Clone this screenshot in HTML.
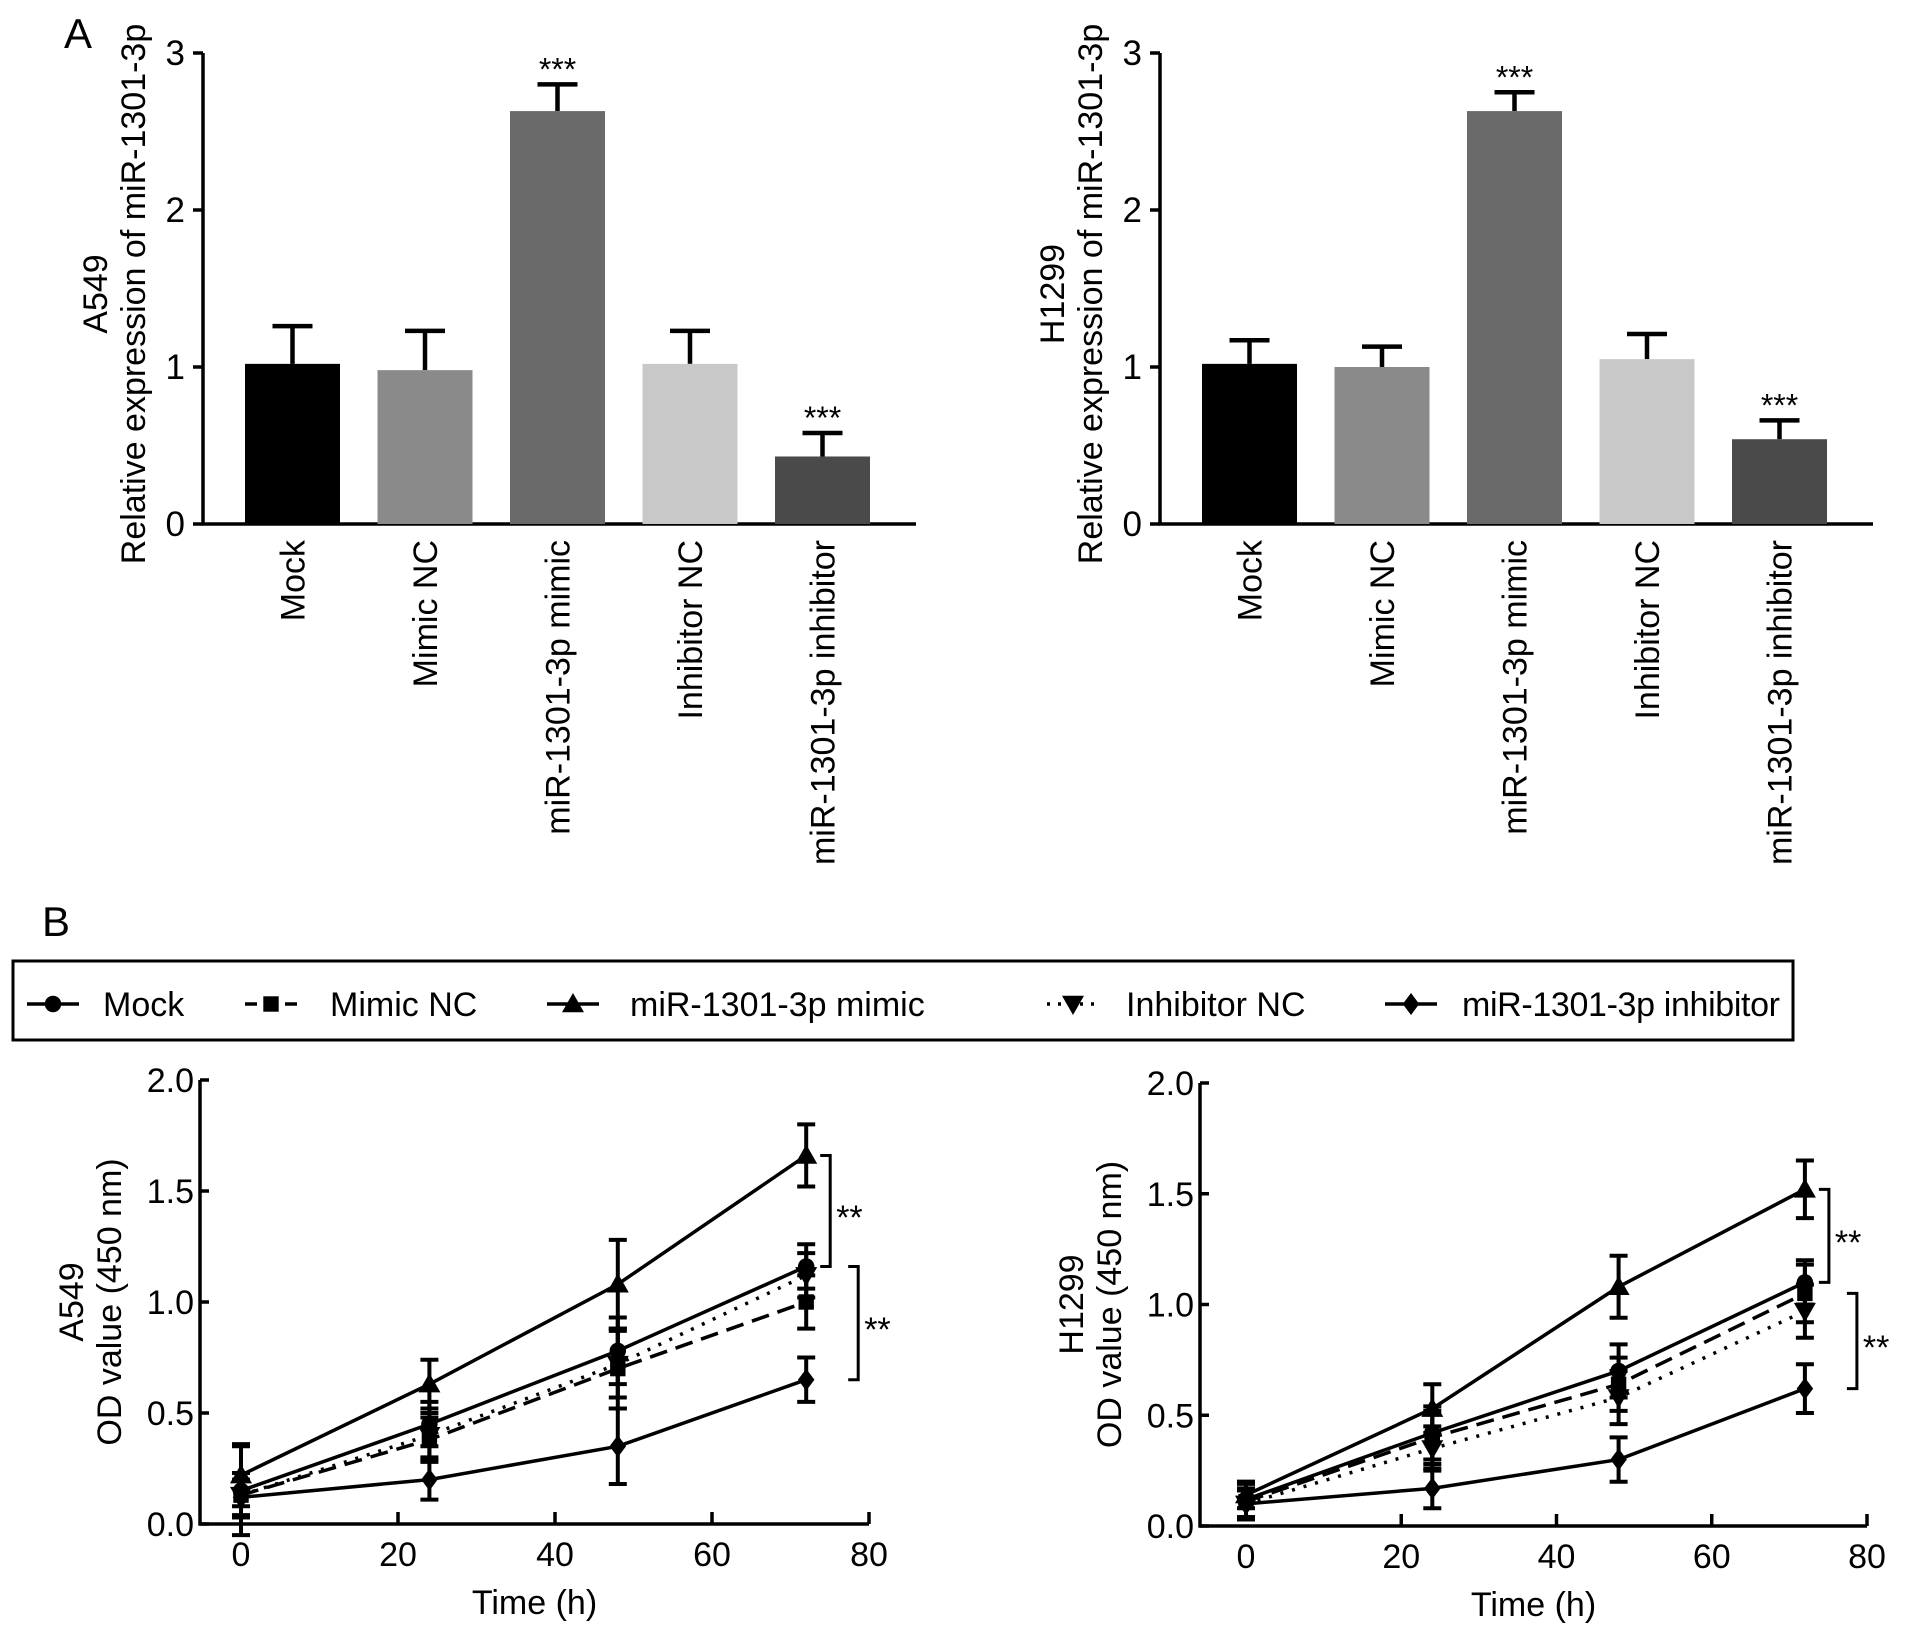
<!DOCTYPE html>
<html><head><meta charset="utf-8"><style>
html,body{margin:0;padding:0;background:#fff;}
svg{display:block;font-family:"Liberation Sans",Arial,sans-serif;}
</style></head><body>
<svg id="fig" width="1913" height="1632" viewBox="0 0 1913 1632" xmlns="http://www.w3.org/2000/svg">
<text x="64" y="48" font-size="42">A</text>
<text x="42" y="936" font-size="42">B</text>
<rect x="13" y="961" width="1780" height="79" fill="none" stroke="#000" stroke-width="3"/>
<g id="legend"></g>
<g id="a1"></g>
<g id="a2"></g>
<g id="b1"></g>
<g id="b2"></g>
</svg>
<script>
const categories = ["Mock","Mimic NC","miR-1301-3p mimic","Inhibitor NC","miR-1301-3p inhibitor"];
const barColors = ["#000000","#8a8a8a","#6a6a6a","#c8c8c8","#4a4a4a"];
const a549Bars = [1.02, 0.98, 2.63, 1.02, 0.43];
const a549BarErr = [0.24, 0.25, 0.17, 0.21, 0.15];
const h1299Bars = [1.02, 1.00, 2.63, 1.05, 0.54];
const h1299BarErr = [0.15, 0.13, 0.12, 0.16, 0.12];
const barSig = ["", "", "***", "", "***"];
const barTicks = [0, 1, 2, 3];
const times = [0, 24, 48, 72];
const lineTicksX = [0, 20, 40, 60, 80];
const lineTicksY = ["0.0","0.5","1.0","1.5","2.0"];
const a549Mock = [0.15, 0.45, 0.78, 1.16];
const a549MimicNC = [0.13, 0.38, 0.70, 1.00];
const a549Mimic = [0.22, 0.63, 1.08, 1.66];
const a549InhNC = [0.13, 0.40, 0.72, 1.12];
const a549Inh = [0.12, 0.20, 0.35, 0.65];
const a549Err = [[0.2,0.1,0.15,0.1],[0.1,0.1,0.18,0.12],[0.14,0.11,0.2,0.14],[0.1,0.1,0.15,0.1],[0.08,0.09,0.17,0.1]];
const h1299Mock = [0.12, 0.42, 0.70, 1.10];
const h1299MimicNC = [0.11, 0.40, 0.64, 1.05];
const h1299Mimic = [0.14, 0.53, 1.08, 1.52];
const h1299InhNC = [0.10, 0.35, 0.58, 0.97];
const h1299Inh = [0.10, 0.17, 0.30, 0.62];
const h1299Err = [[0.08,0.12,0.12,0.1],[0.08,0.12,0.12,0.13],[0.06,0.11,0.14,0.13],[0.07,0.1,0.12,0.12],[0.06,0.09,0.1,0.11]];

const NS="http://www.w3.org/2000/svg";
const FS=34;
function mk(p,tag,at,txt){const e=document.createElementNS(NS,tag);for(const k in at)e.setAttribute(k,at[k]);if(txt!==undefined)e.textContent=txt;p.appendChild(e);return e;}

function barChart(g, ax, vals, errs, lab1, lab2){
  const y0=524, unit=157, x0=ax+42, step=132.5, bw=95;
  const Y=v=>y0-v*unit;
  let e=mk(g,'line',{x1:ax,y1:Y(3),x2:ax,y2:y0+1.5,stroke:'#000','stroke-width':3.5});
  
  
  e=mk(g,'line',{x1:ax-1.5,y1:y0,x2:ax+713,y2:y0,stroke:'#000','stroke-width':3.5});
  
  
  barTicks.forEach(t=>{
    mk(g,'line',{x1:ax,y1:Y(t),x2:ax-10,y2:Y(t),stroke:'#000','stroke-width':3.5});
    const tl=mk(g,'text',{x:ax-18,y:Y(t)+12,'font-size':FS+1,'text-anchor':'end'},String(t));
    
    
  });
  vals.forEach((v,i)=>{
    const x=x0+i*step, cx=x+bw/2, top=Y(v+errs[i]);
    const eb=mk(g,'path',{d:`M${cx} ${Y(v)}V${top}M${cx-20} ${top}H${cx+20}`,stroke:'#000','stroke-width':4.5,fill:'none'});
    
    
    const r=mk(g,'rect',{x:x,y:Y(v),width:bw,height:y0-Y(v),fill:barColors[i]});
    
    
    if(barSig[i]){const s=mk(g,'text',{x:cx,y:top-4,'font-size':32,'text-anchor':'middle'},barSig[i]);
      
      }
    const c=mk(g,'text',{x:0,y:0,'font-size':FS,'text-anchor':'end',transform:`translate(${cx+12},${y0+16}) rotate(-90)`},categories[i]);
    
    
  });
  const l1=mk(g,'text',{x:0,y:0,'font-size':FS,'text-anchor':'middle',transform:`translate(${ax-96},${294}) rotate(-90)`},lab1);
  
  
  const l2=mk(g,'text',{x:0,y:0,'font-size':FS,'text-anchor':'middle',transform:`translate(${ax-58},${294}) rotate(-90)`},lab2);
  
  
}
barChart(document.getElementById('a1'),203,a549Bars,a549BarErr,'A549','Relative expression of miR-1301-3p');
barChart(document.getElementById('a2'),1160,h1299Bars,h1299BarErr,'H1299','Relative expression of miR-1301-3p');

const dashes=['', '18,9', '', '3,9', ''];
function marker(g,kind,x,y,s){
  let e;
  if(kind===0)e=mk(g,'circle',{cx:x,cy:y,r:s*0.75});
  else if(kind===1)e=mk(g,'rect',{x:x-s*0.7,y:y-s*0.7,width:s*1.4,height:s*1.4});
  else if(kind===2)e=mk(g,'path',{d:`M${x} ${y-s}L${x+s} ${y+s*0.75}L${x-s} ${y+s*0.75}Z`});
  else if(kind===3)e=mk(g,'path',{d:`M${x} ${y+s}L${x+s} ${y-s*0.75}L${x-s} ${y-s*0.75}Z`});
  else e=mk(g,'path',{d:`M${x} ${y-s}L${x+s*0.75} ${y}L${x} ${y+s}L${x-s*0.75} ${y}Z`});
  e.setAttribute('fill','#000');
  
  
}
function lineChart(g, ax, x0px, x80px, y0, y2, series, errs, lab1, brackets){
  const X=t=>x0px+t*(x80px-x0px)/80, Y=v=>y0-v*(y0-y2)/2;
  let e=mk(g,'line',{x1:ax,y1:y2,x2:ax,y2:y0+1.5,stroke:'#000','stroke-width':3.5});
  
  
  e=mk(g,'line',{x1:ax-1.5,y1:y0,x2:X(80),y2:y0,stroke:'#000','stroke-width':3.5});
  
  
  lineTicksY.forEach(t=>{const v=parseFloat(t);
    mk(g,'line',{x1:ax,y1:Y(v),x2:ax+9,y2:Y(v),stroke:'#000','stroke-width':3.5});
    const tl=mk(g,'text',{x:ax-6,y:Y(v)+12,'font-size':FS,'text-anchor':'end'},t);
    
    });
  lineTicksX.forEach(t=>{
    if(t>0)mk(g,'line',{x1:X(t),y1:y0,x2:X(t),y2:y0-12,stroke:'#000','stroke-width':3.5});
    const tl=mk(g,'text',{x:X(t),y:y0+42,'font-size':FS,'text-anchor':'middle'},String(t));
    
    });
  series.forEach((s,k)=>{
    const pts=s.map((v,i)=>`${X(times[i])},${Y(v)}`).join(' ');
    const pl=mk(g,'polyline',{points:pts,fill:'none',stroke:'#000','stroke-width':3.5});
    if(dashes[k])pl.setAttribute('stroke-dasharray',dashes[k]);
    
    
    s.forEach((v,i)=>{const x=X(times[i]),a=Y(v+errs[k][i]),b=Y(v-errs[k][i]);
      const eb=mk(g,'path',{d:`M${x} ${a}V${b}M${x-9} ${a}H${x+9}M${x-9} ${b}H${x+9}`,stroke:'#000','stroke-width':4,fill:'none'});
      
      
      marker(g,k,x,Y(v),11);});
  });
  brackets.forEach(br=>{const bx=X(72)+br[2];
    const p=mk(g,'path',{d:`M${bx} ${Y(br[0])}H${bx+10}V${Y(br[1])}H${bx}`,fill:'none',stroke:'#000','stroke-width':3});
    
    
    const s=mk(g,'text',{x:bx+16,y:(Y(br[0])+Y(br[1]))/2+18,'font-size':FS},'**');
    
    });
  const xt=mk(g,'text',{x:(ax+X(80))/2,y:y0+90,'font-size':FS,'text-anchor':'middle'},'Time (h)');
  
  
  const cy=(y0+y2)/2;
  const l1=mk(g,'text',{x:0,y:0,'font-size':FS,'text-anchor':'middle',transform:`translate(${ax-117},${cy}) rotate(-90)`},lab1);
  
  
  const l2=mk(g,'text',{x:0,y:0,'font-size':FS,'text-anchor':'middle',transform:`translate(${ax-79},${cy}) rotate(-90)`},'OD value (450 nm)');
  
  
}
lineChart(document.getElementById('b1'),200,241,869,1524,1080,[a549Mock,a549MimicNC,a549Mimic,a549InhNC,a549Inh],a549Err,'A549',[[a549Mimic[3],a549Mock[3],14],[a549Mock[3],a549Inh[3],42]]);
lineChart(document.getElementById('b2'),1200,1246,1867,1526,1083,[h1299Mock,h1299MimicNC,h1299Mimic,h1299InhNC,h1299Inh],h1299Err,'H1299',[[h1299Mimic[3],h1299Mock[3],14],[h1299MimicNC[3],h1299Inh[3],42]]);

const lg=document.getElementById('legend');
const legX=[[27,103],[245,330],[547,630],[1047,1126],[1385,1462]];
categories.forEach((c,k)=>{
  const [lx,tx]=legX[k], y=1004;
  const ln=mk(lg,'line',{x1:lx,y1:y,x2:lx+52,y2:y,stroke:'#000','stroke-width':3.5});
  if(dashes[k])ln.setAttribute('stroke-dasharray',k===1?'12,8':'3,8');
  
  
  marker(lg,k,lx+26,y,11);
  const t=mk(lg,'text',{x:tx,y:y+12,'font-size':FS,textLength:k===4?318:undefined},c);
  if(k!==4)t.removeAttribute('textLength');
  
  
});
</script>
</body></html>
